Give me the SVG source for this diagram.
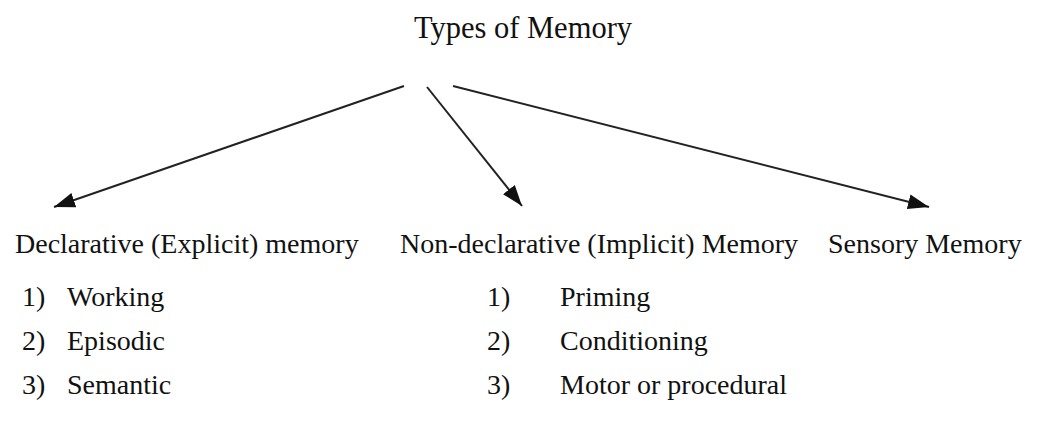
<svg xmlns="http://www.w3.org/2000/svg" width="1042" height="429" viewBox="0 0 1042 429">
<style>
text{font-family:"Liberation Serif","Times New Roman",serif;fill:#111;font-size:28px}
.t{font-size:30.5px}
.c{stroke:#222;stroke-width:2;fill:none}
</style>
<defs>
<marker id="ah" markerUnits="userSpaceOnUse" markerWidth="22" markerHeight="18" viewBox="0 0 22 18" refX="21" refY="9" orient="auto">
<path d="M0,1.5 L21,9 L0,16.5 Z" fill="#111"/>
</marker>
</defs>
<rect width="1042" height="429" fill="#fff"/>
<g id="root"><text class="t" x="523" y="38" text-anchor="middle">Types of Memory</text></g>
<g id="connectors">
<line class="c" x1="404" y1="86" x2="54" y2="207" marker-end="url(#ah)"/>
<line class="c" x1="427" y1="87" x2="522" y2="206" marker-end="url(#ah)"/>
<line class="c" x1="453" y1="86" x2="929" y2="207" marker-end="url(#ah)"/>
</g>
<g id="declarative">
<text x="15" y="253">Declarative (Explicit) memory</text>
<text x="22" y="306">1)</text><text x="67" y="306">Working</text>
<text x="22" y="350">2)</text><text x="67" y="350">Episodic</text>
<text x="22" y="394">3)</text><text x="67" y="394">Semantic</text>
</g>
<g id="nondeclarative">
<text x="400" y="253">Non-declarative (Implicit) Memory</text>
<text x="487" y="306">1)</text><text x="560" y="306">Priming</text>
<text x="487" y="350">2)</text><text x="560" y="350">Conditioning</text>
<text x="487" y="394">3)</text><text x="560" y="394">Motor or procedural</text>
</g>
<g id="sensory">
<text x="828" y="253">Sensory Memory</text>
</g>
</svg>
